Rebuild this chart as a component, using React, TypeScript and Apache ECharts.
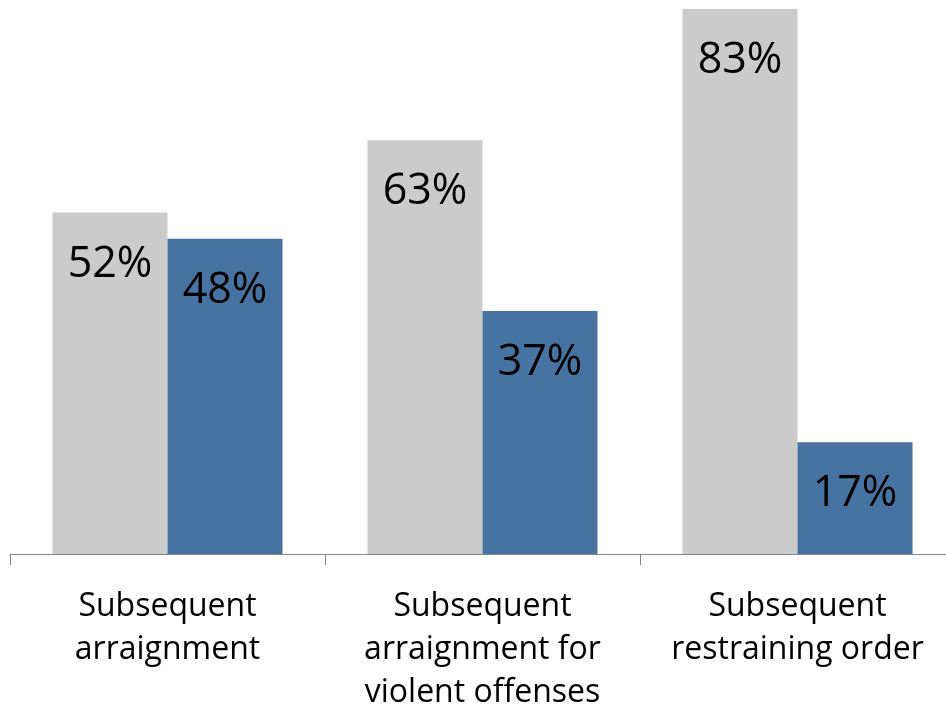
import React, { useEffect, useRef } from "react";
import * as echarts from "echarts";

const categories = [
  "Subsequent\narraignment",
  "Subsequent\narraignment for\nviolent offenses",
  "Subsequent\nrestraining order",
];
const grayValues = [52, 63, 83];
const blueValues = [48, 37, 17];

export default function App() {
  const ref = useRef<HTMLDivElement>(null);
  useEffect(() => {
    document.body.style.margin = "0";
    const chart = echarts.init(ref.current!, null, { renderer: "svg" });
    const labelStyle = {
      show: true,
      position: "insideTop" as const,
      distance: 26,
      formatter: "{c}%",
      color: "#000",
      fontSize: 43,
      fontFamily: "Open Sans",
    };
    chart.setOption({
      animation: false,
      grid: {
        left: 10,
        top: 9,
        width: 945,
        height: 545,
        containLabel: false,
        outerBoundsMode: "none",
      },
      xAxis: {
        type: "category",
        data: categories,
        axisLine: { lineStyle: { color: "#868686", width: 1 } },
        axisTick: { show: true, length: 11, lineStyle: { color: "#868686" } },
        axisLabel: {
          color: "#000",
          fontSize: 32,
          lineHeight: 43,
          fontFamily: "Open Sans",
          margin: 28,
          interval: 0,
        },
      },
      yAxis: {
        type: "value",
        min: 0,
        max: 83,
        show: false,
        splitLine: { show: false },
      },
      series: [
        {
          type: "bar",
          data: grayValues,
          barWidth: 115,
          barGap: "0%",
          itemStyle: { color: "#CBCBCB" },
          label: labelStyle,
        },
        {
          type: "bar",
          data: blueValues,
          barWidth: 115,
          barGap: "0%",
          itemStyle: { color: "#4673A1" },
          label: labelStyle,
        },
      ],
    });
    return () => chart.dispose();
  }, []);
  return (
    <div
      ref={ref}
      style={{ position: "fixed", left: 0, top: 0, width: 946, height: 706 }}
    />
  );
}
